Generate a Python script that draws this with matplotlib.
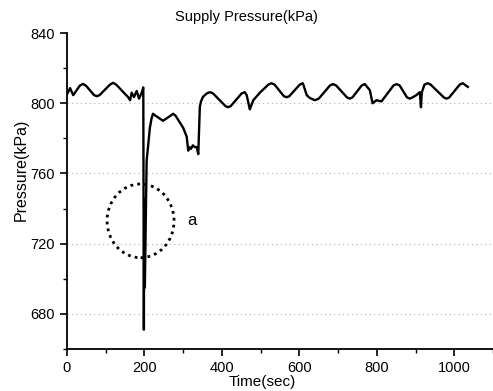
import matplotlib
matplotlib.use("Agg")
import matplotlib.pyplot as plt
from matplotlib.patches import Ellipse
from matplotlib.ticker import MultipleLocator

plt.rcParams['font.family'] = ['Liberation Sans', 'DejaVu Sans']

time_sec = [0, 8, 16, 33, 41, 49, 70, 77, 84, 111, 119, 127, 158, 163, 167, 173, 180, 186, 193, 197,
            198.5, 199.5, 200.5, 201, 205.6, 214, 218, 222, 228, 248, 268, 274, 280, 300, 309, 313,
            316, 320, 325, 330, 335, 339, 343, 346, 351, 361, 369, 377, 409, 416, 423, 451, 459, 464,
            472, 481, 498, 520, 528, 536, 560, 567, 574, 601, 609, 619, 627, 640, 650,
            679, 687, 695, 723, 730, 737, 761, 769, 782, 789, 799, 812,
            843, 851, 859, 878, 885, 892, 902, 911, 914, 916, 923, 931, 939,
            973, 980, 987, 1014, 1022, 1035]
pressure = [805, 808.6, 804.6, 810, 811, 810, 804.6, 804, 804.6, 810.6, 811.6, 810.6, 803.4, 801.7, 806, 803.5, 807, 802.6, 806, 809,
            671, 745, 700, 695, 767, 786, 791, 794, 793, 790, 793, 794, 793, 786, 781, 773,
            775, 774, 776, 775, 775, 771, 798, 801, 803.6, 805.6, 806.3, 805.6, 798.4, 797.7, 798.4, 805.6, 806.3, 804.6,
            796.5, 801.7, 806, 810.6, 811.4, 810.6, 804, 803.4, 804, 810.6, 811.4, 804.6, 803, 801.7, 802.6,
            810.1, 810.9, 810.1, 803.3, 802.6, 803.3, 810.1, 810.9, 807.4, 800, 801.7, 801,
            810.1, 810.9, 810.1, 803.3, 802.6, 803.3, 804.6, 806.3, 797.7, 806, 810.6, 811.4, 810.6,
            803.3, 802.6, 803.3, 810.6, 811.4, 809.3]

x_ticks = [0, 200, 400, 600, 800, 1000]
y_ticks = [680, 720, 760, 800, 840]

fig = plt.figure(figsize=(4.93, 3.91), dpi=100)
ax = fig.add_axes([0.1359, 0.1074, 0.8641, 0.8082])

ax.plot(time_sec, pressure, color='black', lw=1.7, solid_joinstyle='round')

ax.set_xlim(0, 1100)
ax.set_ylim(660, 840)
ax.set_xticks(x_ticks)
ax.set_yticks(y_ticks)
ax.xaxis.set_minor_locator(MultipleLocator(100))
ax.yaxis.set_minor_locator(MultipleLocator(20))
ax.tick_params(axis='both', which='major', length=5, width=1.2, labelsize=10.5, direction='out')
ax.tick_params(axis='both', which='minor', length=3, width=1.0, direction='out')

for s in ['top', 'right']:
    ax.spines[s].set_visible(False)
for s in ['left', 'bottom']:
    ax.spines[s].set_linewidth(1.3)

for yv in [680, 720, 760, 800]:
    ax.axhline(yv, color='#b0b0b0', lw=0.8, ls=(0, (1, 3)), zorder=0)

ell = Ellipse((190, 733), width=173, height=42, fill=False, edgecolor='black',
              lw=2, ls=(0, (1, 1.5)))
ax.add_patch(ell)
ax.text(310, 733, 'a', fontsize=12, ha='left', va='center')

ax.set_xlabel('Time(sec)', fontsize=11, labelpad=0, x=0.458)
ax.set_ylabel('Pressure(kPa)', fontsize=11.5, labelpad=1, y=0.566)
fig.text(0.5, 0.957, 'Supply Pressure(kPa)', ha='center', va='center', fontsize=10.5)

fig.savefig('out.png', dpi=100)
